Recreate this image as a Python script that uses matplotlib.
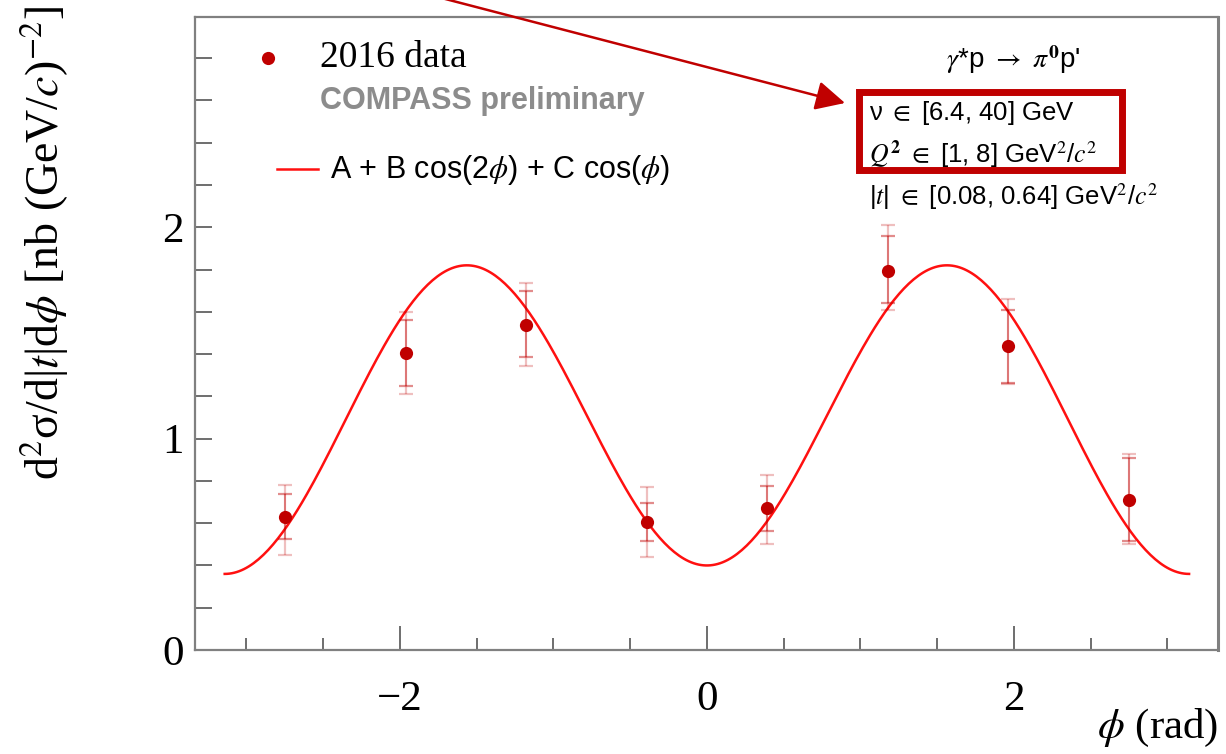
import numpy as np
import matplotlib.pyplot as plt
from matplotlib.lines import Line2D
from matplotlib.patches import Rectangle, FancyArrowPatch

W, H = 1226, 754

# data
phi = np.array([-2.75, -1.96, -1.18, -0.39, 0.39, 1.18, 1.96, 2.75])
xsec = np.array([0.63, 1.405, 1.54, 0.605, 0.67, 1.795, 1.44, 0.71])
stat_lo = np.array([0.105, 0.155, 0.155, 0.09, 0.105, 0.155, 0.175, 0.195])
stat_hi = np.array([0.11, 0.155, 0.16, 0.09, 0.105, 0.165, 0.17, 0.20])
tot_lo = np.array([0.18, 0.195, 0.195, 0.165, 0.17, 0.185, 0.18, 0.21])
tot_hi = np.array([0.15, 0.195, 0.195, 0.165, 0.16, 0.215, 0.22, 0.215])

# fit parameters of A + B cos(2phi) + C cos(phi)
fit_A, fit_B, fit_C = 1.10, -0.72, 0.02

yticks = [0, 1, 2]
xticks = [-2, 0, 2]

dark_red = '#c00000'
sans = ['Liberation Sans', 'DejaVu Sans']
serif = ['Liberation Serif', 'DejaVu Serif']
plt.rcParams['mathtext.fontset'] = 'stix'


def px(x, y):
    return x / W, 1 - y / H


fig = plt.figure(figsize=(W / 100, H / 100), dpi=100)
ax = fig.add_axes([195 / W, (H - 650) / H, (1218 - 195) / W, (650 - 17) / H])

# fit curve
xx = np.linspace(-np.pi, np.pi, 400)
ax.plot(xx, fit_A + fit_B * np.cos(2 * xx) + fit_C * np.cos(xx), color='#ff1010', lw=1.8, zorder=2)

# error bars (total outer, stat inner) and points
ax.errorbar(phi, xsec, yerr=[tot_lo, tot_hi], fmt='none', ecolor=dark_red, alpha=0.25,
            elinewidth=1.6, capsize=5, capthick=1.6, zorder=3)
ax.errorbar(phi, xsec, yerr=[stat_lo, stat_hi], fmt='none', ecolor=dark_red, alpha=0.45,
            elinewidth=1.2, capsize=5, capthick=1.6, zorder=3)
ax.plot(phi, xsec, 'o', color=dark_red, ms=9.5, mew=0, zorder=4)

ax.set_xlim(-3.335, 3.33)
ax.set_ylim(0, 2.995)
ax.set_xticks(xticks)
ax.set_xticklabels(['\u22122', '0', '2'])
ax.set_xticks(np.arange(-3, 3.01, 0.5), minor=True)
ax.set_yticks(yticks)
ax.set_yticks(np.arange(0, 3.0, 0.2), minor=True)

for s in ax.spines.values():
    s.set_color('#808080')
    s.set_linewidth(1.6)
ax.spines['right'].set_linewidth(2.2)

ax.tick_params(which='both', direction='in', top=False, right=False, color='#555555', width=1.2,
               labelsize=31, labelfontfamily='Liberation Serif')
ax.tick_params(axis='x', which='major', length=17, pad=22)
ax.tick_params(axis='x', which='minor', length=9)
ax.tick_params(axis='y', which='both', length=12, pad=8)

# axis titles
fig.text(*px(45, 6), 'd$^2$σ/d|$t$|d$\\phi$ [nb (GeV/$c$)$^{-2}$]', rotation=90,
         ha='center', va='top', fontsize=33, family=serif)
fig.text(*px(1218, 728), r'$\phi$ (rad)', ha='right', va='center', fontsize=31, family=serif)

# legend
fig.add_artist(Line2D([268 / W], [1 - 58 / H], marker='o', color=dark_red, ms=9.5, mew=0,
                      transform=fig.transFigure))
fig.text(*px(320, 58), '2016 data', ha='left', va='center', fontsize=27, family=serif)
fig.text(*px(320, 101), 'COMPASS preliminary', ha='left', va='center', fontsize=22,
         family=sans, weight='bold', color='#8c8c8c')
fig.add_artist(Line2D([277 / W, 318 / W], [1 - 169 / H] * 2, color='#ff1010', lw=1.8,
                      transform=fig.transFigure))
fig.text(*px(330, 170), r'A + B cos(2$\phi$) + C cos($\phi$)', ha='left', va='center',
         fontsize=22, family=sans)

# kinematic info
fig.text(*px(1013, 60), "$\\gamma$*p $\\rightarrow$ $\\pi^{\\mathbf{0}}$p'", ha='center',
         va='center', fontsize=20, family=sans)
fig.text(*px(869, 113), 'ν $\\in$ [6.4, 40] GeV', ha='left', va='center', fontsize=18.5,
         family=sans)
fig.text(*px(869, 155), '$Q^{\\mathbf{2}}$ $\\in$ [1, 8] GeV$^2$/$c^2$', ha='left', va='center',
         fontsize=18.5, family=sans)
fig.text(*px(869, 197), '|$t$| $\\in$ [0.08, 0.64] GeV$^2$/$c^2$', ha='left', va='center',
         fontsize=18.5, family=sans)

# red highlight box and arrow
x0, y0 = px(858.5, 169.5)
x1, y1 = px(1121.5, 92.5)
fig.add_artist(Rectangle((x0, y0), x1 - x0, y1 - y0, transform=fig.transFigure, fill=False,
                         edgecolor=dark_red, lw=5, zorder=10))
fig.add_artist(FancyArrowPatch(px(430, -5), px(845, 103), transform=fig.transFigure,
                               arrowstyle='-|>,head_length=1.0,head_width=0.5',
                               mutation_scale=18, color=dark_red, lw=1.8, shrinkA=0, shrinkB=0))

fig.savefig('out.png', dpi=100)
